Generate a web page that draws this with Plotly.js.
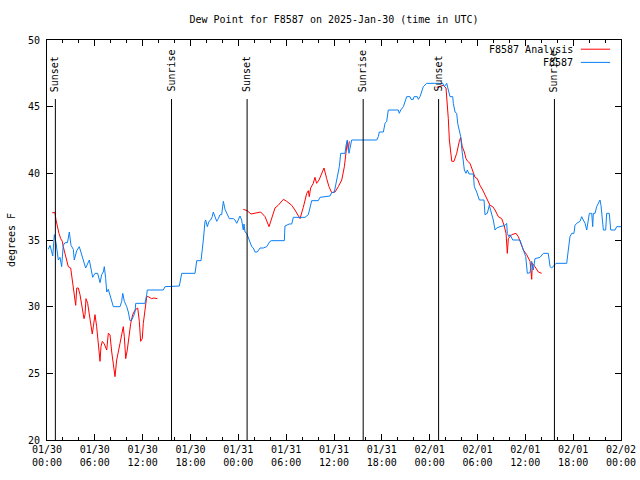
<!DOCTYPE html>
<html>
<head>
<meta charset="utf-8">
<script src="https://cdn.plot.ly/plotly-3.0.1.min.js"></script>
<style>html,body{margin:0;padding:0;background:#fff;}#chart{width:640px;height:480px;}</style>
</head>
<body>
<div id="chart"></div>
<script>
// Hours since 2025-01-30 00:00 UTC
const obsHours = [0.16,0.38,0.72,0.92,1.13,1.42,1.63,1.84,2.04,2.26,2.57,2.80,3.01,3.30,3.42,3.73,4.05,4.35,4.55,4.85,5.31,5.73,6.02,6.36,6.65,6.86,7.06,7.19,7.36,7.49,7.69,7.90,8.12,8.32,9.16,9.37,9.50,9.70,10.0,10.2,10.41,10.62,10.83,11.04,11.13,12.29,12.51,12.58,14.59,14.8,16.6,16.9,18.57,18.78,19.32,19.53,19.61,19.82,19.9,20.11,20.32,20.53,20.73,20.86,21.07,21.29,21.49,21.70,21.91,22.04,22.12,22.33,22.54,22.87,23.37,23.58,23.80,24.0,24.21,24.42,24.55,24.62,24.71,24.84,25.05,25.25,25.46,25.68,25.88,26.09,26.38,26.5,26.72,27.13,27.56,27.97,28.19,29.77,29.85,30.39,30.7,30.9,32.36,32.78,32.99,33.2,34.03,34.24,35.5,35.71,36.04,36.21,36.42,36.67,36.84,37.38,37.51,37.67,37.88,38.22,41.36,41.56,41.68,42.19,42.4,42.61,42.81,44.07,44.19,44.37,44.7,44.91,45.12,45.53,45.66,45.95,46.04,46.45,46.58,46.79,47.0,47.2,47.63,49.64,49.84,50.14,50.34,50.55,50.89,50.97,51.18,51.39,51.52,51.72,51.89,52.02,52.22,52.35,52.56,52.72,52.94,53.48,53.6,53.9,54.23,54.82,54.94,55.23,55.48,55.78,55.98,56.2,56.41,56.82,57.45,57.66,57.74,57.92,58.08,58.42,59.33,59.55,59.83,60.05,60.25,60.59,60.8,61.0,61.21,61.84,62.26,62.88,63.1,63.31,63.85,65.19,65.39,65.6,65.82,66.1,66.23,66.44,66.86,67.07,67.27,67.49,67.7,67.9,68.03,68.33,68.45,68.53,68.74,68.95,69.15,69.37,69.49,69.66,69.79,70.08,70.2,70.53,70.71,71.25,71.46,72.0];
const obsDew = [34.3,34.6,33.8,35.4,34.8,33.5,33.7,33.0,34.6,34.8,34.8,35.6,34.6,34.3,33.5,34.2,34.5,33.9,33.5,32.9,33.5,32.2,32.5,32.5,31.8,32.4,32.6,33.0,32.1,31.1,31.3,30.9,30.5,30.0,30.0,30.4,31.0,30.4,30.0,29.6,28.95,29.0,29.25,29.6,30.25,30.25,30.9,31.25,31.25,31.5,31.55,32.5,32.5,33.45,33.45,34.4,35.0,36.4,36.5,36.0,36.4,36.5,36.75,37.1,36.75,36.4,36.6,36.9,36.9,37.4,37.9,37.3,37.0,36.6,36.6,36.5,36.25,36.6,36.8,36.5,36.1,35.75,36.2,35.6,35.5,35.2,34.9,34.5,34.4,34.1,34.1,34.25,34.4,34.4,34.5,34.9,34.95,34.95,36.05,36.2,36.2,36.7,36.7,36.9,37.5,37.95,37.95,38.2,38.3,38.55,38.6,39.1,39.5,40.5,41.5,41.5,42.1,42.5,41.5,42.5,42.5,42.75,43.1,43.1,43.75,43.9,44.75,44.75,44.5,44.75,45.0,45.4,45.75,45.75,45.55,45.55,45.75,45.75,45.55,45.75,46.25,46.5,46.75,46.75,46.5,46.75,46.25,45.75,45.75,45.25,44.6,44.5,43.75,43.25,42.75,41.9,41.0,40.25,40.0,40.25,39.95,39.95,39.0,38.6,38.0,38.0,36.9,37.0,37.6,37.0,36.5,35.75,35.9,36.0,36.1,36.25,35.5,35.25,35.4,35.0,35.0,34.6,34.1,33.75,32.5,32.55,33.4,32.75,33.6,33.7,34.0,34.0,33.0,32.9,33.25,33.25,34.25,35.25,35.5,35.5,36.1,36.25,36.4,36.75,36.5,36.25,35.75,36.75,37.0,37.0,36.0,37.0,37.0,37.5,37.75,38.0,37.6,36.25,35.75,35.75,37.0,37.0,35.75,35.75,36.0,36.0];

const anaHours = [0.66,1.0,1.13,1.29,1.5,1.72,1.92,2.04,2.26,2.47,2.67,2.97,3.1,3.3,3.51,3.6,3.73,3.93,4.14,4.35,4.48,4.64,4.77,4.89,5.1,5.27,5.48,5.68,5.81,6.02,6.23,6.43,6.65,6.77,6.94,7.19,7.49,7.69,7.9,8.12,8.32,8.53,8.74,8.94,9.16,9.37,9.57,9.7,9.87,10.07,10.29,10.5,10.75,11.04,11.38,11.58,11.75,11.95,12.08,12.29,12.51,12.7,13.13,13.4,13.84,
  19.0,
  24.62,25.1,25.6,26.2,26.8,27.35,27.85,28.2,28.6,29.0,29.65,30.07,30.7,31.1,31.74,32.15,32.58,32.78,32.9,33.07,33.4,33.61,33.82,34.12,34.46,34.75,35.08,35.37,35.71,36.13,36.54,36.97,37.3,37.5,37.67,37.8,37.92,
  43.0,
  48.88,49.3,49.71,50.05,50.14,50.34,50.47,50.64,50.77,51.05,51.39,51.72,51.89,52.09,52.35,52.56,52.77,53.06,53.4,53.69,53.98,54.31,54.65,54.94,55.23,55.57,55.91,56.2,56.61,57.04,57.33,57.58,57.74,57.87,58.29,58.83,59.12,59.42,59.75,60.17,60.59,60.8,60.88,61.21,61.63,62.05];
const anaDew = [37.05,37.05,36.5,36.0,35.5,35.1,34.9,34.5,34.0,33.4,33.0,32.9,32.25,31.5,30.5,30.1,31.4,31.4,30.9,30.25,29.6,29.1,29.4,30.6,30.25,29.5,28.75,27.95,28.5,29.4,28.5,27.4,25.9,27.0,27.4,27.2,26.75,28.0,27.9,26.6,25.75,24.75,26.0,26.5,27.25,27.9,28.5,27.75,26.1,26.75,27.75,28.75,29.4,29.75,29.9,28.9,27.4,27.6,28.75,29.75,30.75,30.75,30.6,30.65,30.6,
  null,
  37.3,37.2,36.95,37.0,37.1,36.75,36.0,36.65,37.4,37.6,38.05,37.9,37.6,37.25,36.6,37.45,38.5,38.7,38.25,38.9,39.25,39.7,39.25,39.5,40.0,40.4,39.6,39.0,38.55,38.6,39.0,39.5,40.5,41.5,42.4,41.75,42.4,
  null,
  46.45,46.55,46.6,46.4,45.75,44.1,42.5,41.5,40.9,40.9,41.5,42.4,42.7,42.0,41.6,41.1,40.9,40.75,40.25,39.7,39.6,39.1,38.75,38.4,38.0,37.6,37.5,37.25,36.75,36.6,36.1,35.5,34.0,35.1,35.4,35.5,35.25,34.75,34.25,33.9,33.4,32.05,33.25,33.0,32.6,32.5];

const eventHours = [1.05, 15.62, 25.1, 39.66, 49.12, 63.65];
const eventLabels = ["Sunset","Sunrise","Sunset","Sunrise","Sunset","Sunrise"];

const seriesNames = ["F8587 Analysis", "F8587"];
const seriesColors = ["#ff0000", "#0a80f5"];

const base = Date.UTC(2025, 0, 30, 0, 0, 0);
function toDate(h) {
  if (h === null) return null;
  return new Date(base + h * 3600000).toISOString().replace('T', ' ').replace('Z', '');
}

const FONT = "DejaVu Sans Mono, monospace";

const traces = [
  {x: anaHours.map(toDate), y: anaDew, type: 'scatter', mode: 'lines', name: seriesNames[0],
   line: {color: seriesColors[0], width: 1}, connectgaps: false},
  {x: obsHours.map(toDate), y: obsDew, type: 'scatter', mode: 'lines', name: seriesNames[1],
   line: {color: seriesColors[1], width: 1}}
];

const shapes = eventHours.map(h => ({
  type: 'line', xref: 'x', yref: 'paper', x0: toDate(h), x1: toDate(h), y0: 0, y1: 0.8525,
  line: {color: '#000', width: 1}
}));
// legend line samples
shapes.push({type: 'line', xref: 'paper', yref: 'paper', x0: 0.930, x1: 0.981, y0: 0.977, y1: 0.977, line: {color: seriesColors[0], width: 1}});
shapes.push({type: 'line', xref: 'paper', yref: 'paper', x0: 0.930, x1: 0.981, y0: 0.944, y1: 0.944, line: {color: seriesColors[1], width: 1}});

const annotations = eventHours.map((h, i) => ({
  x: toDate(h), xref: 'x', y: 0.8675, yref: 'paper', text: eventLabels[i], textangle: -90,
  showarrow: false, xanchor: 'center', yanchor: 'bottom', font: {family: FONT, size: 10, color: '#000'},
  borderpad: 0
}));
annotations.push({x: 0.9186, xref: 'paper', y: 0.977, yref: 'paper', text: seriesNames[0], showarrow: false,
  xanchor: 'right', yanchor: 'middle', font: {family: FONT, size: 10, color: '#000'}, borderpad: 0});
annotations.push({x: 0.9186, xref: 'paper', y: 0.944, yref: 'paper', text: seriesNames[1], showarrow: false,
  xanchor: 'right', yanchor: 'middle', font: {family: FONT, size: 10, color: '#000'}, borderpad: 0});

const layout = {
  width: 640, height: 480,
  margin: {l: 47, r: 19, t: 40, b: 40},
  paper_bgcolor: '#fff', plot_bgcolor: '#fff',
  font: {family: FONT, size: 10, color: '#000'},
  showlegend: false,
  title: {text: 'Dew Point for F8587 on 2025-Jan-30 (time in UTC)', x: 0.5, xref: 'paper', xanchor: 'center',
          y: 1 - 19/480, yref: 'container', yanchor: 'middle', font: {family: FONT, size: 10, color: '#000'}},
  xaxis: {
    type: 'date', range: [toDate(0), toDate(72)],
    tick0: toDate(0), dtick: 6 * 3600000, tickformat: '%m/%d<br>%H:%M',
    ticks: 'inside', ticklen: 6, tickcolor: '#000', tickwidth: 1,
    minor: {dtick: 2 * 3600000, tick0: toDate(0), ticks: 'inside', ticklen: 3, tickcolor: '#000', showgrid: false},
    showline: true, linecolor: '#000', linewidth: 1, mirror: 'ticks',
    showgrid: false, zeroline: false, tickfont: {family: FONT, size: 10, color: '#000'}
  },
  yaxis: {
    range: [20, 50], tick0: 20, dtick: 5,
    ticks: 'inside', ticklen: 6, tickcolor: '#000', tickwidth: 1,
    showline: true, linecolor: '#000', linewidth: 1, mirror: 'ticks',
    ticklabelstandoff: 4,
    showgrid: false, zeroline: false, tickfont: {family: FONT, size: 10, color: '#000'},
    title: {text: 'degrees F', font: {family: FONT, size: 10, color: '#000'}, standoff: 10}
  },
  shapes: shapes,
  annotations: annotations
};

Plotly.newPlot('chart', traces, layout, {staticPlot: true, displayModeBar: false});
</script>
</body>
</html>
